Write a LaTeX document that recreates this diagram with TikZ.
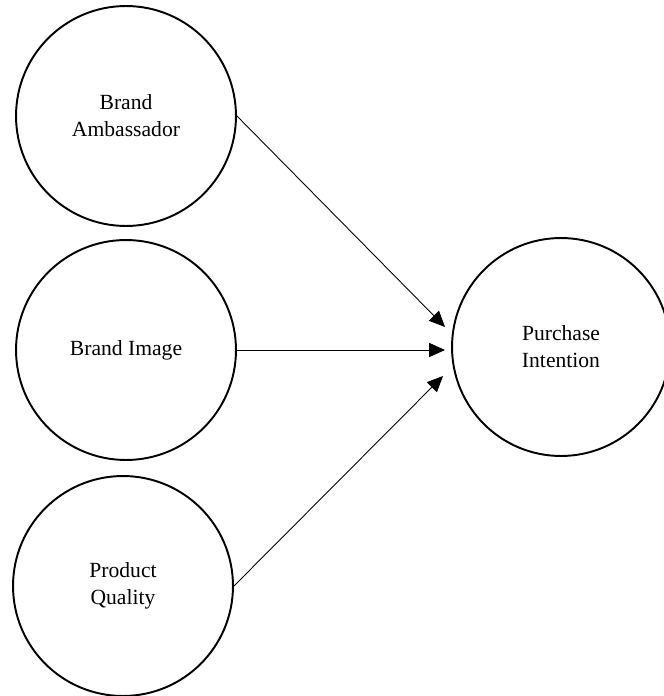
\documentclass[tikz,border=0pt]{standalone}
\usepackage{fontspec}
\setmainfont{Liberation Serif}
\usetikzlibrary{arrows.meta}
\begin{document}
\begin{tikzpicture}[x=0.02cm, y=-0.02cm,
  construct/.style={circle, draw, line width=1.1pt, inner sep=0pt, minimum size=4.4cm, align=center, font=\fontsize{12.3}{15.3}\selectfont},
  effect/.style={-{Triangle[length=9pt, width=8pt]}, line width=0.5pt}]
\useasboundingbox (0,0) rectangle (663,696);
\node[construct] (ba) at (126,116) {Brand\\Ambassador};
\node[construct] (bi) at (126,350) {Brand Image};
\node[construct] (pq) at (123,586) {Product\\Quality};
\node[construct, minimum size=4.36cm] (pi) at (561,347) {Purchase\\Intention};
\coordinate (pi1) at (445,327);
\coordinate (pi2) at (445,350);
\coordinate (pi3) at (443,376);
\draw[effect] (ba.east) -- (pi1);
\draw[effect] (bi.east) -- (pi2);
\draw[effect] (pq.east) -- (pi3);
\end{tikzpicture}
\end{document}
